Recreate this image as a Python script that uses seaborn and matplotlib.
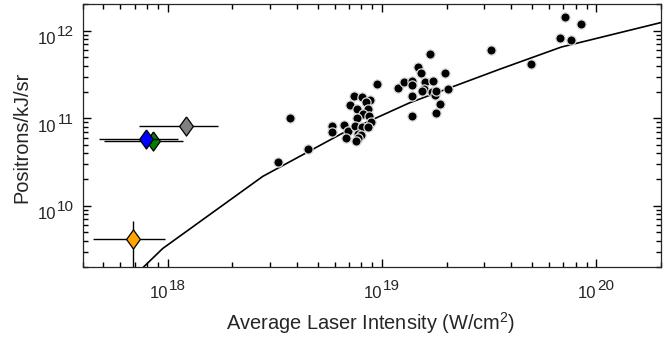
import numpy as np
import pandas as pd
import matplotlib
matplotlib.use("Agg")
import matplotlib.pyplot as plt
import matplotlib.transforms as mtransforms
import seaborn as sns
from matplotlib.ticker import NullFormatter

# ---- data ----
shot_intensity = [3.27e18, 3.73e18, 4.52e18, 5.83e18, 5.83e18, 6.60e18, 6.94e18, 6.81e18,
                  7.07e18, 7.42e18, 8.06e18, 8.77e18, 8.42e18, 7.65e18, 8.55e18, 8.11e18,
                  8.72e18, 7.61e18, 8.88e18, 7.48e18, 8.07e18, 8.58e18, 7.71e18, 7.92e18,
                  7.69e18, 7.56e18, 9.46e18, 1.185e19, 1.27e19, 1.375e19, 1.375e19, 1.47e19,
                  1.51e19, 1.59e19, 1.72e19, 1.68e19, 1.955e19, 1.57e19, 1.54e19, 1.70e19,
                  1.755e19, 1.79e19, 2.03e19, 1.38e19, 1.86e19, 1.79e19, 1.37e19, 3.23e19,
                  4.93e19, 6.79e19, 7.11e19, 7.64e19, 8.45e19]
shot_yield = [3.19e10, 1.02e11, 4.51e10, 8.07e10, 6.99e10, 8.39e10, 7.12e10, 5.90e10,
              1.41e11, 1.81e11, 1.76e11, 1.61e11, 1.55e11, 1.28e11, 1.27e11, 1.12e11,
              1.07e11, 1.01e11, 9.08e10, 8.18e10, 7.96e10, 7.86e10, 6.58e10, 6.37e10,
              5.90e10, 5.52e10, 2.45e11, 2.19e11, 2.63e11, 2.65e11, 2.41e11, 3.83e11,
              3.25e11, 2.57e11, 2.64e11, 5.48e11, 3.33e11, 2.15e11, 2.06e11, 1.99e11,
              1.86e11, 2.06e11, 2.15e11, 1.82e11, 1.47e11, 1.16e11, 1.07e11, 6.08e11,
              4.22e11, 8.33e11, 1.45e12, 7.90e11, 1.20e12]

model_intensity = [7.34e17, 9.44e17, 2.77e18, 6.52e18, 1.34e19, 3.53e19, 6.85e19, 2.0e20]
model_yield = [1.79e9, 3.25e9, 2.17e10, 6.75e10, 1.50e11, 3.63e11, 6.51e11, 1.24e12]

other_names = ["orange", "gray", "green", "blue"]
other_colors = ["#FFA500", "#808080", "#008000", "#0000FF"]
other_intensity = [6.88e17, 1.22e18, 8.47e17, 7.89e17]
other_intensity_lo = [4.49e17, 7.34e17, 5.03e17, 4.74e17]
other_intensity_hi = [9.7e17, 1.71e18, 1.17e18, 1.11e18]
other_yield = [4.22e9, 8.17e10, 5.56e10, 5.86e10]
other_yield_lo = [1.0e9, 8.17e10, 5.56e10, 5.86e10]
other_yield_hi = [6.68e9, 8.17e10, 5.56e10, 5.86e10]

x_tick_values = [1e18, 1e19, 1e20]
x_tick_exponents = ["18", "19", "20"]
y_tick_values = [1e10, 1e11, 1e12]
y_tick_exponents = ["10", "11", "12"]

# ---- style ----
ink = "#262626"
sns.set_theme(style="ticks")
plt.rcParams["font.family"] = ["Liberation Sans", "DejaVu Sans"]
plt.rcParams["mathtext.fontset"] = "custom"
plt.rcParams["mathtext.rm"] = "Liberation Sans"
plt.rcParams["mathtext.it"] = "Liberation Sans:italic"

fig = plt.figure(figsize=(6.71, 3.38), dpi=100)
ax = fig.add_axes([0.1233, 0.21, 0.985 - 0.1233, 0.987 - 0.21])

shots = pd.DataFrame({"I": shot_intensity, "P": shot_yield})
model = pd.DataFrame({"I": model_intensity, "P": model_yield})
others = pd.DataFrame({"name": other_names, "I": other_intensity, "P": other_yield,
                       "Ilo": other_intensity_lo, "Ihi": other_intensity_hi,
                       "Plo": other_yield_lo, "Phi": other_yield_hi})

ax.set_xscale("log")
ax.set_yscale("log")

sns.lineplot(data=model, x="I", y="P", sort=False, estimator=None, color="black",
             linewidth=1.2, ax=ax, zorder=2)

sns.scatterplot(data=shots, x="I", y="P", color="black", edgecolor="#d8d8d8",
                linewidth=0.9, s=44, ax=ax, zorder=3, legend=False)

diamond = [(0, 1), (0.72, 0), (0, -1), (-0.72, 0), (0, 1)]
for i, row in others.iterrows():
    ax.errorbar([row.I], [row.P],
                xerr=[[row.I - row.Ilo], [row.Ihi - row.I]],
                yerr=[[row.P - row.Plo], [row.Phi - row.P]],
                fmt="none", ecolor="black", elinewidth=1.0, capsize=0, zorder=4 + i)
    sns.scatterplot(x=[row.I], y=[row.P], marker=diamond, s=190,
                    color=other_colors[i], edgecolor="black", linewidth=0.9,
                    ax=ax, zorder=4.5 + i, legend=False)

ax.set_xlim(4e17, 2e20)
ax.set_ylim(2e9, 2e12)

for axis in (ax.xaxis, ax.yaxis):
    axis.set_major_formatter(NullFormatter())
    axis.set_minor_formatter(NullFormatter())

ax.tick_params(which="major", direction="in", bottom=True, left=True, top=True, right=True,
               color="black", width=1.0, length=6)
ax.tick_params(which="minor", direction="in", bottom=True, left=True, top=True, right=True,
               color="black", width=1.0, length=3.5)
for sp in ax.spines.values():
    sp.set_color(ink)
    sp.set_linewidth(0.9)

# tick labels in "10^n" form with a large exponent (as real text)
PX = 72.0 / fig.dpi
xt = mtransforms.blended_transform_factory(ax.transData, ax.transAxes)
yt = mtransforms.blended_transform_factory(ax.transAxes, ax.transData)
for v, e in zip(x_tick_values, x_tick_exponents):
    ax.text(v, 0, "10", transform=mtransforms.offset_copy(xt, fig, x=0, y=-31.3 * PX, units="points"),
            ha="right", va="baseline", fontsize=12, color=ink)
    ax.text(v, 0, e, transform=mtransforms.offset_copy(xt, fig, x=0.6 * PX, y=-23.0 * PX, units="points"),
            ha="left", va="baseline", fontsize=11, color=ink)
for v, e in zip(y_tick_values, y_tick_exponents):
    ax.text(0, v, e, transform=mtransforms.offset_copy(yt, fig, x=-8.7 * PX, y=-5.3 * PX, units="points"),
            ha="right", va="baseline", fontsize=11, color=ink)
    ax.text(0, v, "10", transform=mtransforms.offset_copy(yt, fig, x=-26.6 * PX, y=-13.3 * PX, units="points"),
            ha="right", va="baseline", fontsize=12, color=ink)

ax.set_xlabel("Average Laser Intensity (W/cm$^2$)", fontsize=14.4, color=ink)
ax.xaxis.label.set_va("baseline")
ax.xaxis.set_label_coords(0.498, -0.240)
ax.set_ylabel("Positrons/kJ/sr", fontsize=14.4, color=ink)
ax.yaxis.set_label_coords(-0.0885, 0.494)

fig.savefig("out.png", dpi=100)
